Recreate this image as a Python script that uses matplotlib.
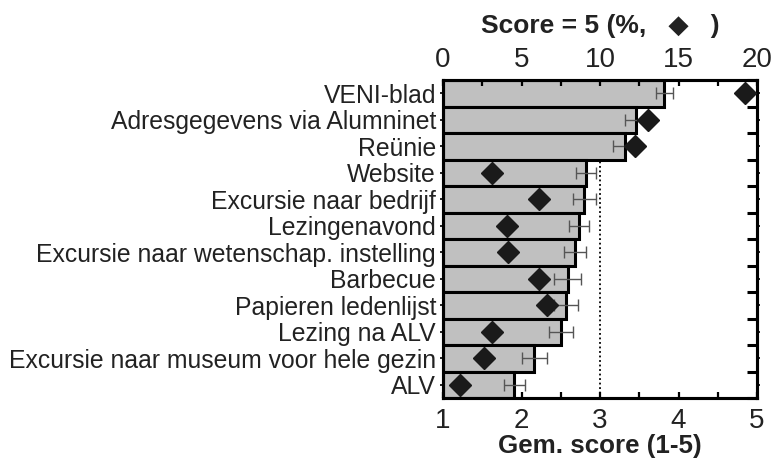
import matplotlib
matplotlib.use("Agg")
import matplotlib.pyplot as plt
import numpy as np

plt.rcParams['font.family'] = ['Liberation Sans', 'DejaVu Sans']

categories = ["VENI-blad", "Adresgegevens via Alumninet", "Reünie", "Website",
              "Excursie naar bedrijf", "Lezingenavond",
              "Excursie naar wetenschap. instelling", "Barbecue",
              "Papieren ledenlijst", "Lezing na ALV",
              "Excursie naar museum voor hele gezin", "ALV"]
mean_score = [3.82, 3.46, 3.32, 2.82, 2.80, 2.73, 2.68, 2.59, 2.57, 2.50, 2.16, 1.91]
score_err = [0.11, 0.14, 0.15, 0.13, 0.15, 0.13, 0.14, 0.17, 0.15, 0.15, 0.16, 0.13]
pct_score5 = [19.25, 13.06, 12.2, 3.12, 6.1, 4.08, 4.14, 6.1, 6.6, 3.1, 2.6, 1.08]
score_ticks = [1, 2, 3, 4, 5]
pct_ticks = [0, 5, 10, 15, 20]

fig = plt.figure(figsize=(7.73, 4.59), dpi=100)
ax = fig.add_axes([443/773, 1-398/459, (757-443)/773, (398-80)/459])

y = np.arange(len(categories))
ax.barh(y, np.array(mean_score) - 1, left=1, height=1.0, color='#c0c0c0',
        edgecolor='black', linewidth=2.2, zorder=2)
ax.errorbar(mean_score, y, xerr=score_err, fmt='none', ecolor='#555555',
            elinewidth=1.0, capsize=4, capthick=1.0, zorder=3)
ax.axvline(3, color='black', linestyle=(0, (1, 1.5)), linewidth=1.3, zorder=1.5)

ax.set_xlim(1, 5)
ax.set_ylim(len(categories) - 0.5, -0.5)
ax.set_xticks(score_ticks)
ax.set_xticks(np.arange(1.5, 5, 1.0), minor=True)
ax.set_yticks(y)
ax.set_yticklabels(categories, fontsize=17.8, color='#222222')
ax.set_yticks(np.arange(-0.5, len(categories) + 0.5, 1.0), minor=True)
ax.tick_params(axis='x', which='both', direction='in', length=4, width=1.6,
               labelsize=20, pad=7, top=False, labelcolor='#222222')
ax.tick_params(axis='y', which='major', direction='out', length=2, width=1.2,
               left=True, right=True, pad=3)
ax.tick_params(axis='y', which='minor', direction='in', length=7, width=2.2,
               left=False, right=True)
ax.set_xlabel("Gem. score (1-5)", fontsize=18.7, fontweight='bold', labelpad=0,
              color='#222222')
for s in ax.spines.values():
    s.set_linewidth(2.2)

ax2 = ax.twiny()
ax2.set_xlim(0, 20)
ax2.plot(pct_score5, y, linestyle='none', marker='D', markersize=11,
         color='#1a1a1a', zorder=4)
ax2.set_xticks(pct_ticks)
ax2.set_xticks(np.arange(2.5, 20, 5), minor=True)
ax2.tick_params(axis='x', which='both', direction='in', length=4, width=1.6,
                labelsize=20, pad=5, labelcolor='#222222')
ax2.set_xlabel("Score = 5 (%,   \u25C6   )", fontsize=19, fontweight='bold',
               labelpad=10, color='#222222')
for s in ax2.spines.values():
    s.set_linewidth(2.2)

fig.savefig("out.png", dpi=100)
